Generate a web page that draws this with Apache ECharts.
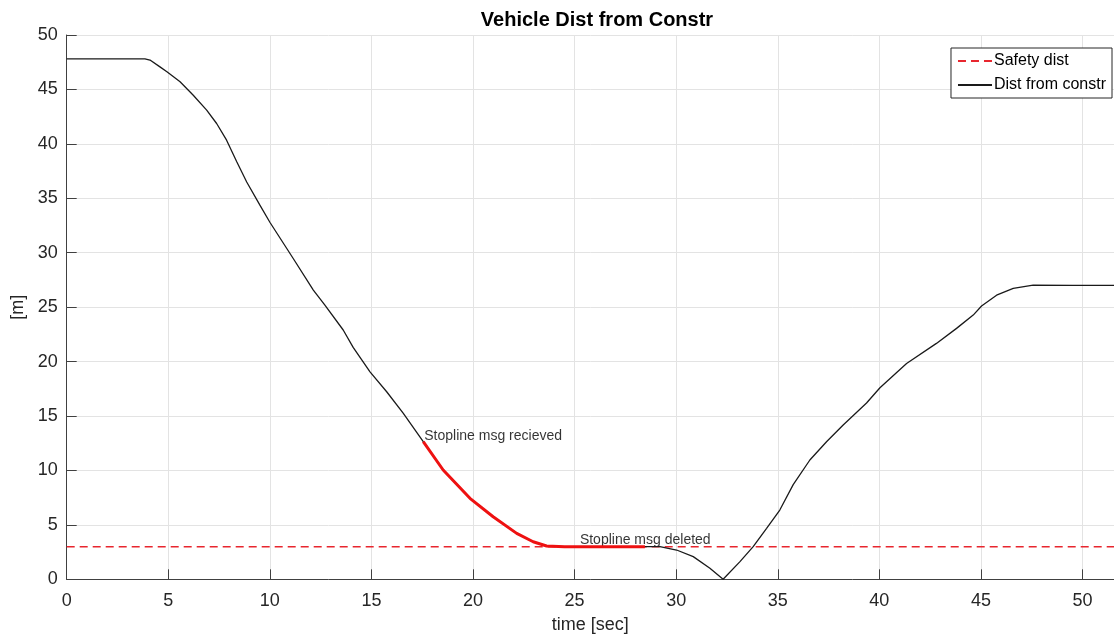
<!DOCTYPE html>
<html>
<head>
<meta charset="utf-8">
<script src="https://cdn.jsdelivr.net/npm/echarts@6/dist/echarts.min.js"></script>
<style>html,body{margin:0;padding:0;background:#fff}#c{width:1114px;height:637px}</style>
</head>
<body>
<div id="c"></div>
<script>
// ---- data ----
const timeSec = [0, 3.85, 4.1, 4.59, 4.95, 5.58, 6.23, 6.89, 7.38, 7.87, 8.37, 8.86, 9.51, 10.0, 11.15, 12.14, 12.7, 13.61, 14.1, 14.93, 15.75, 16.57, 17.55, 18.53, 19.85, 20.99, 22.15, 22.96, 23.62, 24.5, 26.5, 28.46, 29.2, 30.02, 30.84, 31.66, 32.31, 33.14, 33.79, 34.45, 35.1, 35.76, 36.58, 37.4, 38.22, 39.37, 40.03, 41.34, 42.81, 43.8, 44.62, 45.03, 45.77, 46.59, 47.57, 49.5, 51.55];
const distConstr = [47.8, 47.8, 47.7, 47.07, 46.6, 45.7, 44.47, 43.1, 41.87, 40.34, 38.35, 36.5, 34.37, 32.8, 29.47, 26.57, 25.2, 22.9, 21.3, 19.06, 17.23, 15.24, 12.64, 10.04, 7.44, 5.75, 4.22, 3.45, 3.06, 3.0, 3.0, 3.0, 3.0, 2.69, 2.08, 1.01, 0.0, 1.62, 3.0, 4.68, 6.36, 8.7, 10.96, 12.64, 14.17, 16.2, 17.6, 19.83, 21.67, 23.05, 24.27, 25.1, 26.1, 26.72, 27.02, 27.0, 27.0];
const safetyDist = 3;
const stoplineStart = 17.55;   // stopline msg received
const stoplineEnd = 28.46;     // stopline msg deleted
const xMax = 51.55;
const annotations = [
  { name: 'Stopline msg recieved', x: 17.6, y: 13.15 },
  { name: 'Stopline msg deleted', x: 25.26, y: 3.6 }
];

const FONT = 'Liberation Sans, Arial, Helvetica, sans-serif';
const mainData = timeSec.map((t, i) => [t, distConstr[i]]);
const redData = mainData.filter(p => p[0] >= stoplineStart && p[0] <= stoplineEnd);

const chart = echarts.init(document.getElementById('c'), null, { renderer: 'canvas' });
chart.setOption({
  animation: false,
  backgroundColor: '#ffffff',
  textStyle: { fontFamily: FONT },
  title: {
    text: 'Vehicle Dist from Constr',
    left: 592, textAlign: 'center', top: 5,
    textStyle: { fontFamily: FONT, fontSize: 20, fontWeight: 'bold', color: '#000' }
  },
  legend: {
    data: ['Safety dist', 'Dist from constr'],
    orient: 'vertical',
    right: 2, top: 48,
    itemWidth: 34, itemHeight: 10, itemGap: 8,
    padding: [5, 6, 5, 6],
    backgroundColor: '#fff',
    borderColor: '#262626', borderWidth: 1, borderRadius: 0,
    itemStyle: { opacity: 0 },
    textStyle: { fontFamily: FONT, fontSize: 16, color: '#000', padding: [0, 0, 0, -3] }
  },
  grid: { left: 66.7, right: 0, top: 35, bottom: 57.7, containLabel: false, outerBoundsMode: 'none' },
  xAxis: {
    type: 'value', min: 0, max: xMax, interval: 5,
    name: 'time [sec]', nameLocation: 'middle', nameGap: 37,
    nameTextStyle: { fontFamily: FONT, fontSize: 18, color: '#262626' },
    axisLine: { show: true, onZero: false, lineStyle: { color: '#404040', width: 1 } },
    axisTick: { show: true, inside: true, length: 10, lineStyle: { color: '#404040' } },
    axisLabel: { fontFamily: FONT, fontSize: 18, color: '#262626', margin: 13, showMaxLabel: false },
    splitLine: { show: true, lineStyle: { color: '#e3e3e3', width: 1 } }
  },
  yAxis: {
    type: 'value', min: 0, max: 50, interval: 5,
    name: '[m]', nameLocation: 'middle', nameGap: 34, nameRotate: 90,
    nameTextStyle: { fontFamily: FONT, fontSize: 18, color: '#262626' },
    axisLine: { show: true, lineStyle: { color: '#404040', width: 1 } },
    axisTick: { show: true, inside: true, length: 10, lineStyle: { color: '#404040' } },
    axisLabel: { fontFamily: FONT, fontSize: 18, color: '#262626', margin: 9 },
    splitLine: { show: true, lineStyle: { color: '#e3e3e3', width: 1 } }
  },
  series: [
    {
      name: 'Safety dist', type: 'line', symbol: 'none', silent: true,
      data: [[0, safetyDist], [xMax, safetyDist]],
      lineStyle: { color: '#e8262e', width: 1.5, type: [8, 5] },
      itemStyle: { color: '#e8262e' }
    },
    {
      name: 'Dist from constr', type: 'line', symbol: 'none', silent: true,
      smooth: false,
      data: mainData,
      lineStyle: { color: '#1a1a1a', width: 1.3 },
      itemStyle: { color: '#1a1a1a' }
    },
    {
      name: 'stopline', type: 'line', symbol: 'none', silent: true,
      smooth: false,
      data: redData,
      lineStyle: { color: '#ee1111', width: 3 },
      itemStyle: { color: '#ee1111' }
    },
    {
      name: 'notes', type: 'scatter', symbolSize: 0, silent: true,
      data: annotations.map(a => ({ name: a.name, value: [a.x, a.y] })),
      label: {
        show: true, position: 'right', distance: 0,
        formatter: p => p.name,
        fontFamily: FONT, fontSize: 14, color: '#000'
      }
    }
  ]
});
</script>
</body>
</html>
